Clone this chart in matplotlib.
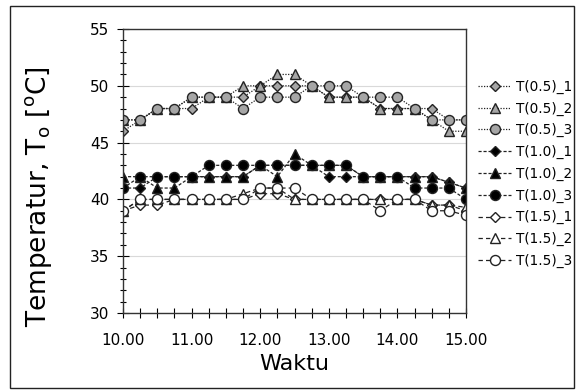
import matplotlib
matplotlib.use("Agg")
import matplotlib.pyplot as plt
from matplotlib.patches import Rectangle
from matplotlib.ticker import MultipleLocator, FormatStrFormatter

# waktu pengukuran (jam desimal)
waktu = [10.00, 10.25, 10.50, 10.75, 11.00, 11.25, 11.50, 11.75, 12.00, 12.25, 12.50,
         12.75, 13.00, 13.25, 13.50, 13.75, 14.00, 14.25, 14.50, 14.75, 15.00]

t05_1 = [46, 47, 48, 48, 48, 49, 49, 49, 50, 50, 50, 50, 49, 49, 49, 48, 48, 48, 48, 47, 47]
t05_2 = [47, 47, 48, 48, 49, 49, 49, 50, 50, 51, 51, 50, 49, 49, 49, 48, 48, 48, 47, 46, 46]
t05_3 = [47, 47, 48, 48, 49, 49, 49, 48, 49, 49, 49, 50, 50, 50, 49, 49, 49, 48, 47, 47, 47]

t10_1 = [41, 41, 42, 42, 42, 42, 42, 42, 43, 43, 43, 43, 42, 42, 42, 42, 42, 42, 42, 41.5, 41]
t10_2 = [42, 42, 41, 41, 42, 42, 42, 42, 43, 42, 44, 43, 43, 43, 42, 42, 42, 42, 42, 41.5, 41]
t10_3 = [41, 42, 42, 42, 42, 43, 43, 43, 43, 43, 43, 43, 43, 43, 42, 42, 42, 41, 41, 41, 40]

t15_1 = [39, 39.5, 39.5, 40, 40, 40, 40, 40, 40.5, 40.5, 40, 40, 40, 40, 40, 40, 40, 40, 39.5, 39.5, 39]
t15_2 = [39, 40, 40, 40, 40, 40, 40, 40.5, 41, 41, 40, 40, 40, 40, 40, 40, 40, 40, 39.5, 39.5, 39.3]
t15_3 = [39, 40, 40, 40, 40, 40, 40, 40, 41, 41, 41, 40, 40, 40, 40, 39, 40, 40, 39, 39, 38.6]

label = ["T(0.5)_1", "T(0.5)_2", "T(0.5)_3",
         "T(1.0)_1", "T(1.0)_2", "T(1.0)_3",
         "T(1.5)_1", "T(1.5)_2", "T(1.5)_3"]

semua = [t05_1, t05_2, t05_3, t10_1, t10_2, t10_3, t15_1, t15_2, t15_3]
marker = ["D", "^", "o"] * 3
ukuran = [5, 7, 7.2] * 3
warna = ["#a6a6a6"] * 3 + ["black"] * 3 + ["white"] * 3
gaya = [(0, (1, 1.2))] * 3 + [(0, (2.5, 1.5))] * 3 + [(0, (3.5, 2.5))] * 3

fig = plt.figure(figsize=(5.77, 3.91), dpi=100)
ax = fig.add_axes([0.2132, 0.1995, 0.5944, 0.7263])

for data, lab, m, s, c, ls in zip(semua, label, marker, ukuran, warna, gaya):
    ax.plot(waktu, data, linestyle=ls, color="#222222", linewidth=0.9,
            marker=m, markersize=s, markerfacecolor=c, markeredgecolor="#222222",
            markeredgewidth=1.0, label=lab)

ax.set_xlim(10, 15)
ax.set_ylim(30, 55)
ax.xaxis.set_major_locator(MultipleLocator(1))
ax.xaxis.set_minor_locator(MultipleLocator(0.25))
ax.xaxis.set_major_formatter(FormatStrFormatter("%.2f"))
ax.yaxis.set_major_locator(MultipleLocator(5))
ax.yaxis.set_minor_locator(MultipleLocator(1))
ax.tick_params(axis="x", which="both", direction="inout", length=7, width=0.8, labelsize=11, pad=11)
ax.tick_params(axis="y", which="major", direction="inout", length=8, width=0.8, labelsize=11, pad=6)
ax.tick_params(axis="y", which="minor", direction="inout", length=5, width=0.8)
ax.grid(axis="y", which="major", color="#d9d9d9", linewidth=0.8)
ax.set_axisbelow(True)
for sp in ax.spines.values():
    sp.set_linewidth(1.0)
    sp.set_color("#333333")

ax.set_xlabel("Waktu", fontsize=16)
ax.xaxis.set_label_coords(0.5, -0.145)
ax.set_ylabel("Temperatur, T$_\\mathregular{o}$ [$^\\mathregular{o}$C]", fontsize=19)
ax.yaxis.set_label_coords(-0.2, 0.41)

ax.legend(loc="center left", bbox_to_anchor=(1.02, 0.49), frameon=False, fontsize=9.8,
          handlelength=2.4, handletextpad=0.35, labelspacing=0.56, borderaxespad=0)

fig.add_artist(Rectangle((10 / 577, 3 / 391), 564 / 577, 382 / 391, transform=fig.transFigure,
                         fill=False, edgecolor="#222222", linewidth=1.0))

fig.savefig("out.png", dpi=100)
